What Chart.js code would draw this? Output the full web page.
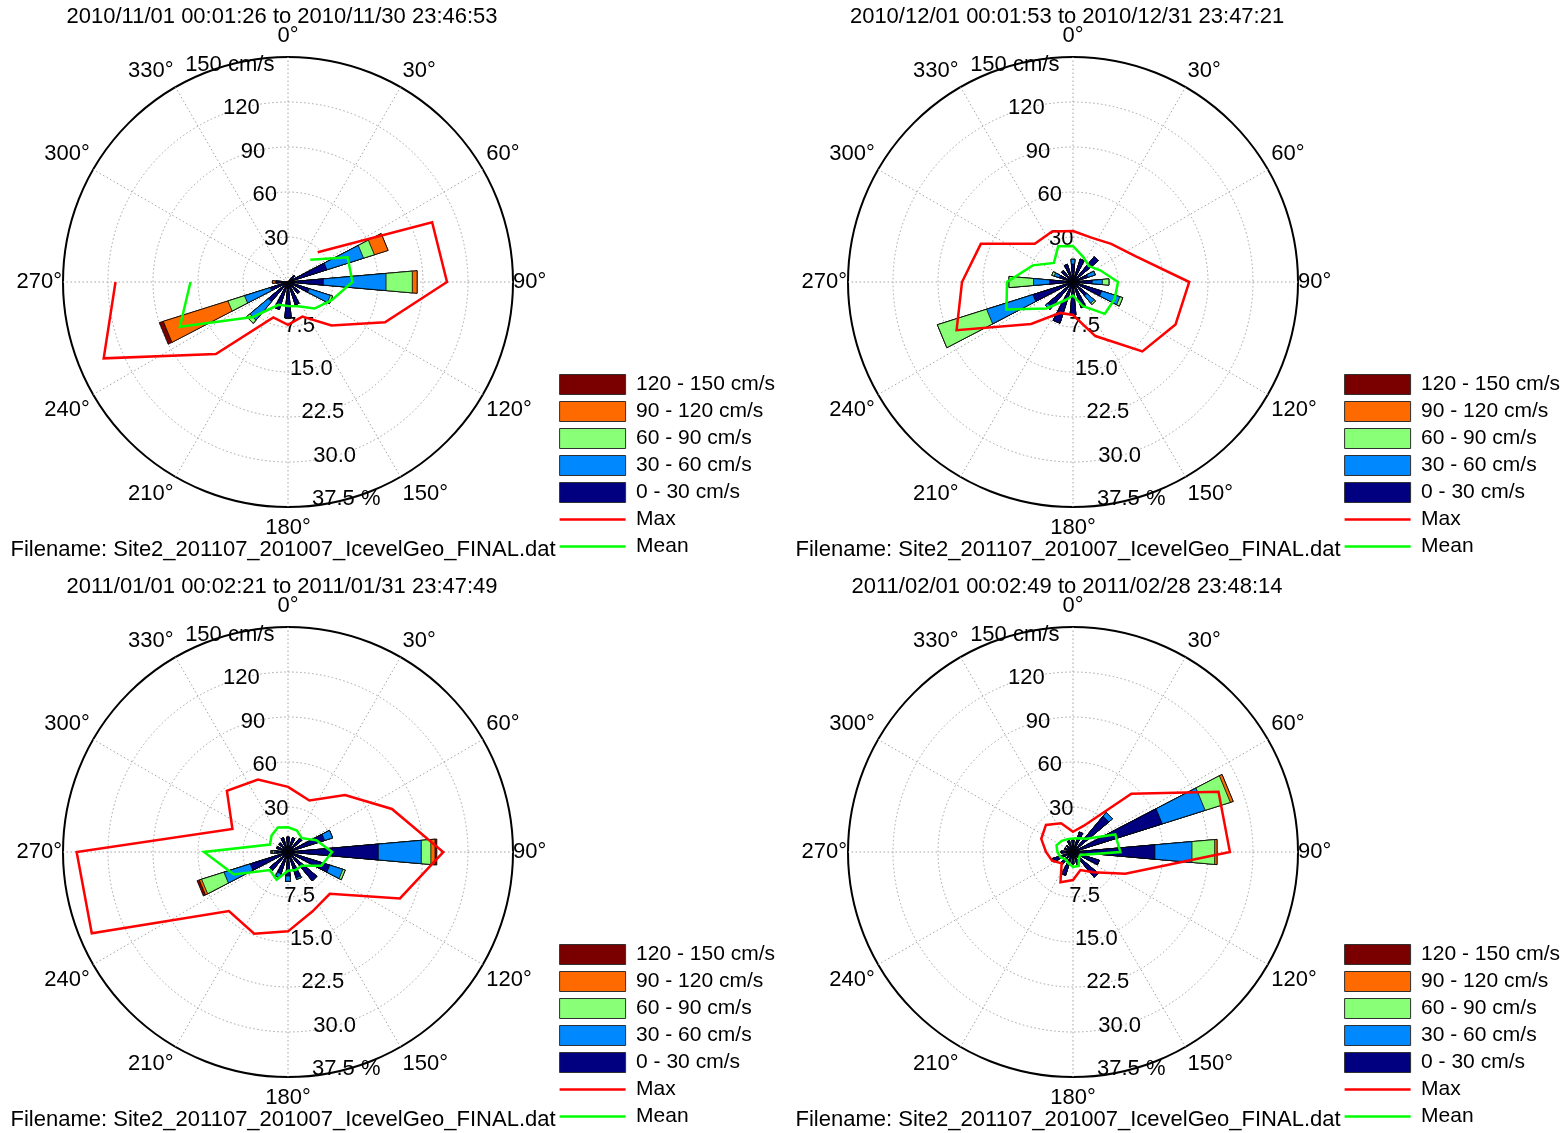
<!DOCTYPE html>
<html>
<head>
<meta charset="utf-8">
<script src="https://cdn.jsdelivr.net/npm/chart.js@4.4.1/dist/chart.umd.min.js"></script>
<style>
  html, body { margin: 0; padding: 0; background: #fff; }
  body { width: 1562px; height: 1133px; position: relative; overflow: hidden; }
  canvas { position: absolute; }
</style>
</head>
<body>
<canvas id="rose-nov" width="785" height="563" style="left:0px;top:0px"></canvas>
<canvas id="rose-dec" width="785" height="563" style="left:785px;top:0px"></canvas>
<canvas id="rose-jan" width="785" height="563" style="left:0px;top:570px"></canvas>
<canvas id="rose-feb" width="785" height="563" style="left:785px;top:570px"></canvas>
<script>
// 16 direction sectors, 22.5 deg apart, starting at north and going clockwise
const directions = ["N", "NNE", "NE", "ENE", "E", "ESE", "SE", "SSE", "S", "SSW", "SW", "WSW", "W", "WNW", "NW", "NNW"];
const degreeLabels = ["0°", "30°", "60°", "90°", "120°", "150°", "180°", "210°", "240°", "270°", "300°", "330°"];
const sectorMarks = ["0°", "", "", "", "90°", "", "", "", "180°", "", "", "", "270°", "", "", ""];

// rings: speed (cm/s) and frequency (%) share the same circles
const speedRings = [30, 60, 90, 120, 150];
const speedRingText = ["30", "60", "90", "120", "150 cm/s"];
const percentRingText = ["7.5", "15.0", "22.5", "30.0", "37.5 %"];

const bandLabels = ["0 - 30 cm/s", "30 - 60 cm/s", "60 - 90 cm/s", "90 - 120 cm/s", "120 - 150 cm/s"];
const bandColors = ["#000080", "#0088ff", "#88ff77", "#ff6a00", "#7a0000"];
const filename = "Filename: Site2_201107_201007_IcevelGeo_FINAL.dat";

// November 2010 (% of records per sector and speed band)
const novTitle = "2010/11/01 00:01:26 to 2010/11/30 23:46:53";
const nov0_30 = [0, 0, 1.5, 6.8, 5.9, 3.7, 2.5, 4.0, 6.0, 4.8, 4.3, 3.1, 2.0, 0, 0, 0];
const nov30_60 = [0, 0, 0, 6.4, 10.5, 3.7, 0, 0, 0, 0, 4.0, 4.5, 0, 0, 0, 0];
const nov60_90 = [0, 0, 0, 1.9, 4.4, 0.4, 0, 0, 0, 0, 0.7, 2.9, 0, 0, 0, 0];
const nov90_120 = [0, 0, 0, 2.4, 0.8, 0, 0, 0, 0, 0, 0, 11.3, 0.6, 0, 0, 0];
const nov120_150 = [0, 0, 0, 0, 0, 0, 0, 0, 0, 0, 0, 0.7, 0, 0, 0, 0];
const novMax = [null, null, 28, 104, 106, 70, 41, 25, 28.5, 25.6, 68, 133, 115, null, null, null];
const novMean = [null, null, 21, 43, 43, 31.5, 25, 17.5, 16, 16.5, 33, 78, 65, null, null, null];

// December 2010
const decTitle = "2010/12/01 00:01:53 to 2010/12/31 23:47:21";
const dec0_30 = [3.0, 4.0, 5.5, 2.6, 3.2, 5.0, 3.0, 4.5, 5.5, 7.2, 5.5, 7.0, 3.9, 2.4, 2.5, 3.1];
const dec30_60 = [0.8, 0, 0, 1.3, 1.7, 3.2, 1.6, 0, 0, 0, 0.5, 8.1, 2.7, 0.9, 0, 0];
const dec60_90 = [0, 0, 0, 0, 1.1, 0.5, 0.3, 0, 0, 0, 0, 8.6, 4.1, 0.4, 0, 0];
const dec90_120 = [0, 0, 0, 0, 0, 0, 0, 0, 0, 0, 0, 0, 0, 0, 0, 0];
const dec120_150 = [0, 0, 0, 0, 0, 0, 0, 0, 0, 0, 0, 0, 0, 0, 0, 0];
const decMax = [34, 32, 36, 45, 77.5, 74, 65.4, 39, 22, 22.3, 39.5, 84, 74, 66.5, 36, 36.4];
const decMean = [24, 18, 15, 20, 30, 30, 30, 17.5, 9, 13, 25, 48, 44, 29, 18, 25.8];

// January 2011
const janTitle = "2011/01/01 00:02:21 to 2011/01/31 23:47:49";
const jan0_30 = [2.5, 2.5, 3.0, 6.4, 15.1, 7.3, 6.3, 4.5, 4.0, 3.8, 4.0, 6.6, 2.0, 2.0, 2.0, 2.5];
const jan30_60 = [0, 0, 0, 1.4, 7.2, 2.3, 0, 0.3, 0.9, 0.7, 0, 4.6, 0.3, 0, 0, 0];
const jan60_90 = [0, 0, 0, 0, 1.6, 0.4, 0, 0, 0, 0, 0, 3.9, 0.3, 0, 0, 0];
const jan90_120 = [0, 0, 0, 0, 0.7, 0, 0, 0, 0, 0, 0, 0.4, 0.2, 0, 0, 0];
const jan120_150 = [0, 0, 0, 0, 0.3, 0, 0, 0, 0, 0, 0, 0.4, 0.1, 0, 0, 0];
const janMax = [43.4, 37.2, 53.8, 75, 103.5, 80.8, 39.4, 42.8, 52.9, 58.9, 55.7, 141.6, 140.9, 40.1, 57.6, 52.3];
const janMean = [16.5, 15.5, 13, 20.5, 29.4, 24, 13, 13, 12.5, 20, 17, 39, 56, 13, 15.5, 17.7];

// February 2011
const febTitle = "2011/02/01 00:02:49 to 2011/02/28 23:48:14";
const feb0_30 = [2.0, 3.5, 7.8, 15.6, 13.7, 4.6, 5.5, 2.3, 2.0, 4.1, 2.7, 3.6, 2.0, 1.5, 1.5, 2.0];
const feb30_60 = [0, 0, 0.8, 7.5, 6.2, 0, 0, 0, 0, 0, 0, 0, 0, 0, 0, 0];
const feb60_90 = [0, 0, 0, 4.4, 3.8, 0, 0, 0, 0, 0, 0, 0, 0, 0, 0, 0];
const feb90_120 = [0, 0, 0, 0.5, 0.4, 0, 0, 0, 0, 0, 0, 0, 0, 0, 0, 0];
const feb120_150 = [0, 0, 0, 0, 0, 0, 0, 0, 0, 0, 0, 0, 0, 0, 0, 0];
const febMax = [13.5, 19, 55, 105, 104.6, 37.7, 19, 13, 18.7, 21.8, 10.7, 15.1, 18, 22.9, 25.5, 20.7];
const febMean = [9, 10, 12.6, 30.5, 31.6, 5.3, 5.6, 10, 10, 8, 7, 9, 10.4, 11.9, 10.6, 9.3];

const pctToScale = 150 / 37.5; // 37.5 % sits on the 150 cm/s circle
const sectorStep = 22.5;
const wedgeWidth = 10;

Chart.defaults.font.family = '"Liberation Sans", Arial, sans-serif';
Chart.defaults.font.size = 22;
Chart.defaults.color = "#000";

// Wedges alternate with empty gaps so every bar sits centred on its direction
const sectorSequence = (bins) => {
  const out = [];
  for (let e = 0; e < 32; e++) out.push(e % 2 ? bins[((e + 1) / 2) % 16] : 0);
  return out;
};
const sectorAngle = (c) => (c.dataIndex === 0 ? sectorStep - wedgeWidth / 2 : c.dataIndex % 2 ? wedgeWidth : sectorStep - wedgeWidth);

const labelPad = (c) => {
  if (c.label === "270°") return 1;
  if (c.label === "90°") return 0;
  if (c.label === "0°" || c.label === "180°") return 8;
  return 4;
};

// Speed and percent labels along the 345 and 165 degree directions
const ringLabels = {
  id: "ringLabels",
  beforeDatasetsDraw(chart) {
    const s = chart.scales.r;
    const ctx = chart.ctx;
    ctx.save();
    ctx.font = '22px "Liberation Sans", Arial, sans-serif';
    ctx.fillStyle = "#000";
    ctx.textAlign = "center";
    ctx.textBaseline = "middle";
    speedRings.forEach((v, i) => {
      const d = s.getDistanceFromCenterForValue(v);
      [[345, speedRingText[i]], [165, percentRingText[i]]].forEach(([deg, txt]) => {
        const a = (deg * Math.PI) / 180;
        ctx.fillText(txt, s.xCenter + d * Math.sin(a), s.yCenter - d * Math.cos(a));
      });
    });
    ctx.restore();
  },
};

const buildRose = (canvasId, title, bands, maxSpeed, meanSpeed) => {
  let running = new Array(16).fill(0);
  const stacked = bands.map((band) => (running = running.map((v, k) => v + band[k])));

  const wedgeSets = [4, 3, 2, 1, 0].map((j) => ({
    type: "polarArea",
    label: bandLabels[j],
    rAxisID: "r",
    order: j + 2,
    data: sectorSequence(stacked[j].map((p) => p * pctToScale)),
    backgroundColor: (c) => (c.dataIndex % 2 ? bandColors[j] : "rgba(0,0,0,0)"),
    borderColor: "#000",
    borderWidth: (c) => (c.dataIndex % 2 && c.raw > 0 ? 0.8 : 0),
    angle: sectorAngle,
    circular: false,
  }));

  const lineSets = [
    { label: "Max", data: maxSpeed, color: "#ff0000", order: 1 },
    { label: "Mean", data: meanSpeed, color: "#00ff00", order: 0 },
  ].map((l) => ({
    type: "radar",
    label: l.label,
    rAxisID: "rb",
    order: l.order,
    data: l.data,
    borderColor: l.color,
    backgroundColor: l.color,
    borderWidth: 2.5,
    borderJoinStyle: "miter",
    pointRadius: 0,
    fill: false,
    spanGaps: false,
  }));

  return new Chart(document.getElementById(canvasId), {
    type: "radar",
    data: { labels: directions, datasets: [...wedgeSets, ...lineSets] },
    options: {
      responsive: false,
      animation: false,
      events: [],
      layout: { padding: { left: 10.5, right: 0, top: 0, bottom: 0 } },
      scales: {
        r: {
          type: "radialLinear",
          min: 0,
          max: 150,
          startAngle: 0,
          labels: degreeLabels,
          ticks: { display: false, stepSize: 30 },
          grid: {
            circular: true,
            color: (c) => (c.tick.value === 150 ? "#000" : "#9a9a9a"),
            lineWidth: (c) => (c.tick.value === 150 ? 2 : 0.9),
          },
          border: { dash: (c) => (c.tick && c.tick.value === 150 ? [] : [1.5, 2.5]) },
          angleLines: { display: true, color: "#9a9a9a", lineWidth: 0.9, borderDash: [1.5, 2.5] },
          pointLabels: { display: true, color: "#000", font: { size: 22 }, padding: labelPad },
        },
        rb: {
          type: "radialLinear",
          axis: "r",
          min: 0,
          max: 150,
          startAngle: 0,
          labels: sectorMarks,
          ticks: { display: false, stepSize: 30 },
          grid: { display: false },
          angleLines: { display: false },
          pointLabels: { display: true, color: "rgba(0,0,0,0)", font: { size: 22 }, padding: labelPad },
        },
      },
      plugins: {
        tooltip: { enabled: false },
        title: {
          display: true,
          text: title,
          fullSize: false,
          color: "#000",
          font: { size: 22, weight: "normal" },
          padding: { top: 4, bottom: -9 },
        },
        subtitle: {
          display: true,
          text: filename,
          position: "bottom",
          align: "start",
          fullSize: true,
          color: "#000",
          font: { size: 22, weight: "normal" },
          padding: { top: -7, bottom: 0 },
        },
        legend: {
          position: "right",
          align: "end",
          labels: {
            usePointStyle: true,
            pointStyleWidth: 66,
            boxWidth: 66,
            boxHeight: 20,
            padding: 6,
            color: "#000",
            font: { size: 21 },
            generateLabels: (chart) =>
              chart.data.datasets.map((ds, i) => {
                const isLine = ds.type === "radar";
                return {
                  text: ds.label,
                  datasetIndex: i,
                  hidden: false,
                  fillStyle: isLine ? ds.borderColor : bandColors[bandLabels.indexOf(ds.label)],
                  strokeStyle: isLine ? ds.borderColor : "#303030",
                  lineWidth: isLine ? 2.5 : 1,
                  pointStyle: isLine ? "line" : "rect",
                  fontColor: "#000",
                };
              }),
          },
        },
      },
    },
    plugins: [ringLabels],
  });
};

buildRose("rose-nov", novTitle, [nov0_30, nov30_60, nov60_90, nov90_120, nov120_150], novMax, novMean);
buildRose("rose-dec", decTitle, [dec0_30, dec30_60, dec60_90, dec90_120, dec120_150], decMax, decMean);
buildRose("rose-jan", janTitle, [jan0_30, jan30_60, jan60_90, jan90_120, jan120_150], janMax, janMean);
buildRose("rose-feb", febTitle, [feb0_30, feb30_60, feb60_90, feb90_120, feb120_150], febMax, febMean);
</script>
</body>
</html>
